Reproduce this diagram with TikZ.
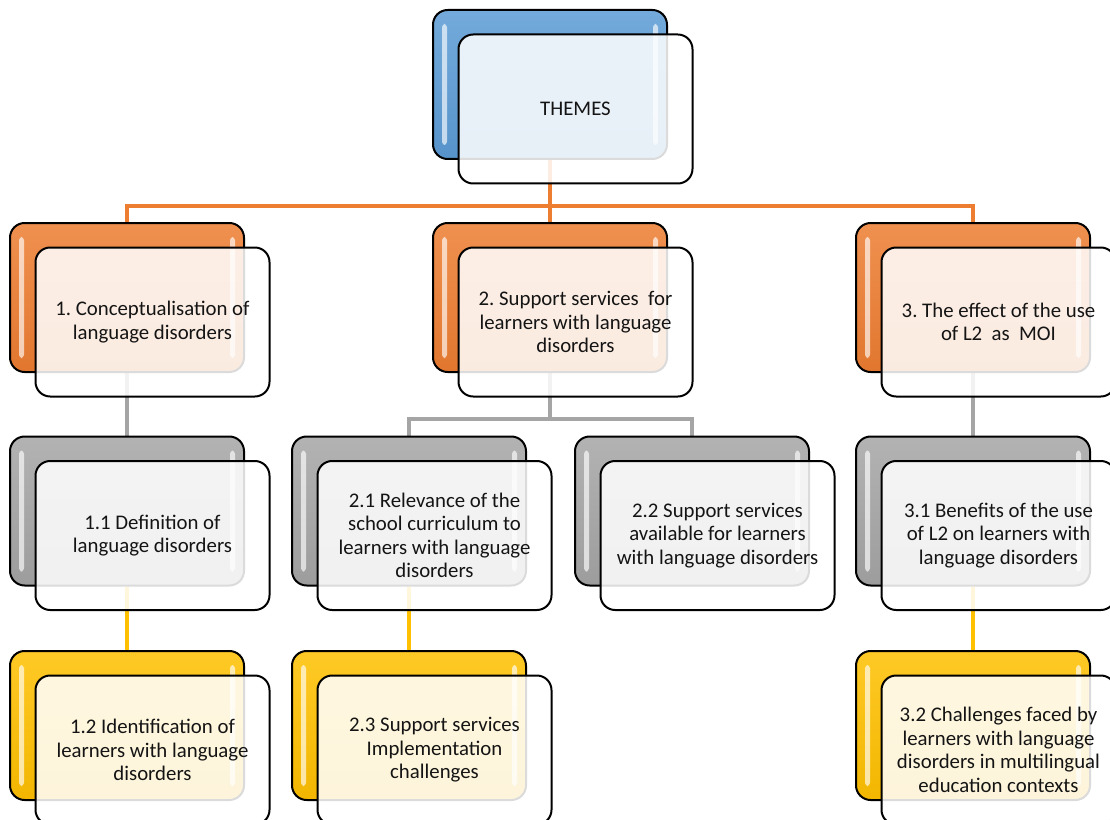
\documentclass[tikz,border=0pt]{standalone}
\usepackage{fontspec}
\setmainfont{Carlito}
\usetikzlibrary{calc,backgrounds}
\frenchspacing

\definecolor{tierBlue}{HTML}{5B9BD5}
\definecolor{tierOrange}{HTML}{ED7D31}
\definecolor{tierGray}{HTML}{A5A5A5}
\definecolor{tierGold}{HTML}{FFC000}
\definecolor{inkText}{HTML}{141414}

\tikzset{
  backbox/.style={draw=black, line width=1.5pt, rounded corners=11pt,
    minimum width=175.5pt, minimum height=111.75pt, inner sep=0pt,
    top color=#1!85!white, middle color=#1, bottom color=#1!95!black},
  glint/.style={fill=white, fill opacity=0.65, rounded corners=2.5pt},
  frontbox/.style={draw=black, line width=1.5pt, rounded corners=11pt,
    minimum width=175.5pt, minimum height=111.75pt, inner sep=2pt,
    fill=white, fill opacity=0.86, text opacity=1, draw opacity=1,
    align=center, text=inkText,
    font=\fontsize{15.6}{17.6}\selectfont},
  link/.style={draw=#1, line width=2.3pt},
}

% back card with its two light strips, then the translucent front card
\newcommand\tierpair[5]{%
  \node[backbox=#4] (#1-bk) at (#2,#3) {};
  \fill[glint] ($(#1-bk.north west)+(10,15)$) rectangle ($(#1-bk.south west)+(15,-15)$);
  \fill[glint] ($(#1-bk.north east)+(-15,15)$) rectangle ($(#1-bk.south east)+(-10,-15)$);
  \node[frontbox] (#1) at ($(#1-bk)+(25.5,24.5)$) {#5};
}

\begin{document}
\begin{tikzpicture}[x=0.75pt, y=-0.75pt]
  \useasboundingbox (0,0) rectangle (1110,820);
  \clip (0,0) rectangle (1110,820);

  % root
  \tierpair{th}{550}{84.5}{tierBlue}{THEMES}

  % first level
  \tierpair{t1}{127}{297.5}{tierOrange}{1. Conceptualisation of\\language disorders}
  \tierpair{t2}{550}{297.5}{tierOrange}{2. Support services \ for\\learners with language\\disorders}
  \tierpair{t3}{973}{297.5}{tierOrange}{3. The effect of the use\\of L2 \ as \ MOI}

  % second level
  \tierpair{t11}{127}{511}{tierGray}{1.1 Definition of\\language disorders}
  \tierpair{t21}{409}{511}{tierGray}{2.1 Relevance of the\\school curriculum to\\learners with language\\disorders}
  \tierpair{t22}{692}{511}{tierGray}{2.2 Support services\\available for learners\\with language disorders}
  \tierpair{t31}{973}{511}{tierGray}{3.1 Benefits of the use\\of L2 on learners with\\language disorders}

  % third level
  \tierpair{t12}{127}{725.5}{tierGold}{1.2 Identification of\\learners with language\\disorders}
  \tierpair{t23}{409}{725.5}{tierGold}{2.3 Support services\\Implementation\\challenges}
  \tierpair{t32}{973}{725.5}{tierGold}{3.2 Challenges faced by\\learners with language\\disorders in multilingual\\education contexts}

  \begin{pgfonlayer}{background}
    % root to first level
    \draw[link=tierOrange] (th-bk.south) -- ++(0,46) -| (t1-bk.north);
    \draw[link=tierOrange] (th-bk.south) -- ++(0,46) -| (t3-bk.north);
    \draw[link=tierOrange] (th-bk.south) -- (t2-bk.north);
    % first to second level
    \draw[link=tierGray] (t1-bk.south) -- (t11-bk.north);
    \draw[link=tierGray] (t2-bk.south) -- ++(0,46) -| (t21-bk.north);
    \draw[link=tierGray] (t2-bk.south) -- ++(0,46) -| (t22-bk.north);
    \draw[link=tierGray] (t3-bk.south) -- (t31-bk.north);
    % second to third level
    \draw[link=tierGold] (t11-bk.south) -- (t12-bk.north);
    \draw[link=tierGold] (t21-bk.south) -- (t23-bk.north);
    \draw[link=tierGold] (t31-bk.south) -- (t32-bk.north);
  \end{pgfonlayer}
\end{tikzpicture}
\end{document}
